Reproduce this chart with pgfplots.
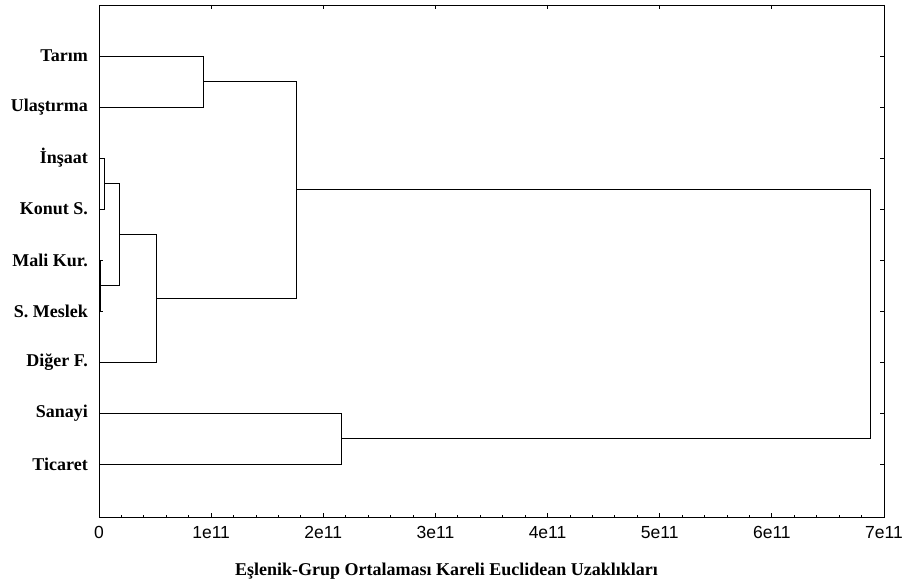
\documentclass[border=0pt]{standalone}
\usepackage{fontspec}
\setmainfont{Liberation Serif}
\newfontfamily\arialf{Liberation Sans}
\usepackage{pgfplots}
\pgfplotsset{compat=1.18}
\newcommand\lbl{\fontsize{18}{19}\selectfont}
\newcommand\tlbl{\fontsize{17.5}{18}\selectfont}

\pgfplotsset{
  dendro/.style={
    scale only axis, width=785pt, height=512pt,
    xmin=0, xmax=7e11, ymin=0, ymax=10.04, y dir=reverse,
    clip=false, tick align=inside, scaled x ticks=false,
    major tick length=4pt, minor tick length=2pt,
    every tick/.style={black, line width=0.8pt},
    axis line style={line width=0.8pt},
  },
  link/.style={black, line width=0.8pt, no marks, line join=miter},
}

\begin{document}
\begin{tikzpicture}
\path[use as bounding box] (0,0) rectangle (904pt,585pt);

\begin{axis}[dendro, at={(99pt,68pt)}, anchor=south west,
  xtick={0,1e11,2e11,3e11,4e11,5e11,6e11,7e11},
  xticklabels={0,1e11,2e11,3e11,4e11,5e11,6e11,7e11},
  minor x tick num=4, xtick pos=bottom,
  ytick={1,...,9}, ytick pos=both, yticklabel pos=left,
  yticklabels={Tarım,Ulaştırma,İnşaat,Konut S.,Mali Kur.,S. Meslek\ ,Diğer F.,Sanayi,Ticaret},
  xticklabel style={font=\arialf\tlbl, inner sep=0pt, anchor=north, yshift=-9pt},
  yticklabel style={font=\bfseries\lbl, inner sep=0pt, anchor=east, xshift=-11pt},
  xlabel={Eşlenik-Grup Ortalaması Kareli Euclidean Uzaklıkları},
  xlabel style={font=\bfseries\lbl, at={(axis description cs:0.5,0)}, anchor=base,
    yshift=-58pt, xshift=-45pt},
]
% Tarim - Ulastirma
\addplot[link] coordinates {(0,1) (0.928e11,1) (0.928e11,2) (0,2)};
% Insaat - Konut S.
\addplot[link] coordinates {(0,3) (0.045e11,3) (0.045e11,4) (0,4)};
% Mali Kur. - S. Meslek
\addplot[link] coordinates {(0,5) (0.012e11,5) (0.012e11,6) (0,6)};
\addplot[link] coordinates {(0.045e11,3.5) (0.181e11,3.5) (0.181e11,5.5) (0.012e11,5.5)};
% + Diger F.
\addplot[link] coordinates {(0.181e11,4.5) (0.511e11,4.5) (0.511e11,7) (0,7)};
\addplot[link] coordinates {(0.928e11,1.5) (1.757e11,1.5) (1.757e11,5.75) (0.511e11,5.75)};
% Sanayi - Ticaret
\addplot[link] coordinates {(0,8) (2.159e11,8) (2.159e11,9) (0,9)};
% last join
\addplot[link] coordinates {(1.757e11,3.625) (6.878e11,3.625) (6.878e11,8.5) (2.159e11,8.5)};
\end{axis}

% top ticks only (major)
\begin{axis}[dendro, at={(99pt,68pt)}, anchor=south west,
  xtick={0,1e11,2e11,3e11,4e11,5e11,6e11,7e11}, xtick pos=top,
  xticklabels={}, ytick=\empty]
\end{axis}
\end{tikzpicture}
\end{document}
